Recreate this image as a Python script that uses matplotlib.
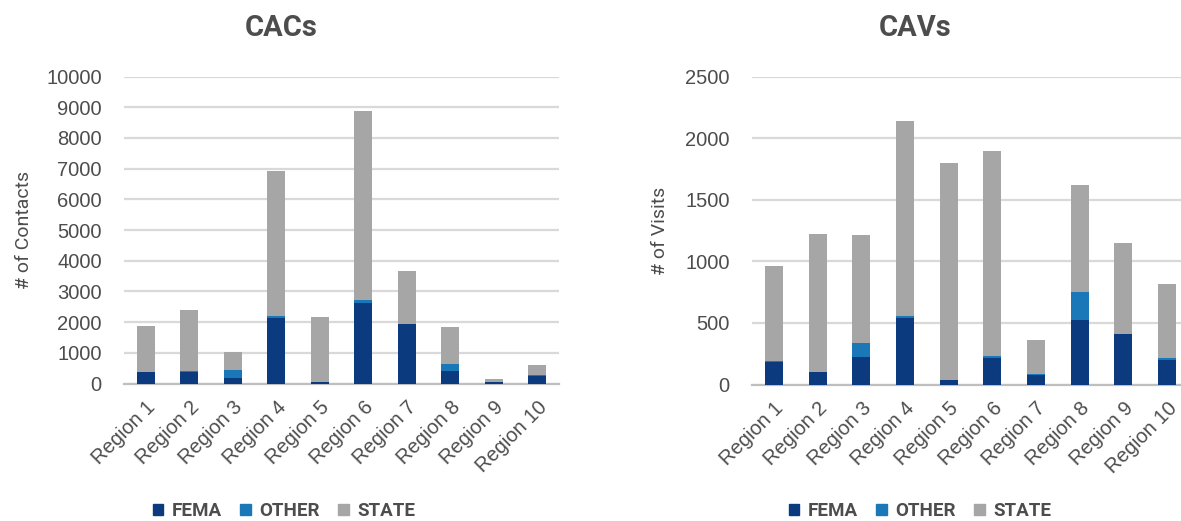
import numpy as np
import matplotlib.pyplot as plt
from matplotlib.patches import Patch

regions = ["Region 1", "Region 2", "Region 3", "Region 4", "Region 5",
           "Region 6", "Region 7", "Region 8", "Region 9", "Region 10"]

# CACs - number of contacts
cac_fema = [370, 390, 190, 2140, 65, 2610, 1925, 420, 60, 230]
cac_other = [20, 20, 260, 60, 0, 110, 20, 200, 0, 40]
cac_state = [1490, 1980, 560, 4720, 2095, 6140, 1715, 1210, 90, 330]

# CAVs - number of visits
cav_fema = [180, 98, 225, 540, 40, 212, 77, 525, 411, 200]
cav_other = [10, 0, 115, 20, 0, 20, 10, 226, 0, 15]
cav_state = [770, 1124, 871, 1581, 1759, 1664, 275, 865, 740, 601]

FEMA_C = "#0b3a7e"
OTHER_C = "#1a78b8"
STATE_C = "#a6a6a6"
TEXT_C = "#4d4d4d"
NARROW = ["Roboto", "DejaVu Sans"]

plt.rcParams["font.family"] = ["Liberation Sans", "DejaVu Sans"]

fig = plt.figure(figsize=(11.81, 5.21), dpi=100)
W, H = 1181, 521


def stacked(ax, fema, other, state, ymax, step, ylabel):
    x = np.arange(len(regions))
    fema = np.array(fema)
    other = np.array(other)
    state = np.array(state)
    ax.bar(x, fema, width=0.41, color=FEMA_C, zorder=3)
    ax.bar(x, other, width=0.41, bottom=fema, color=OTHER_C, zorder=3)
    ax.bar(x, state, width=0.41, bottom=fema + other, color=STATE_C, zorder=3)
    ax.set_xlim(-0.5, len(regions) - 0.5)
    ax.set_ylim(0, ymax)
    ax.set_yticks(np.arange(0, ymax + 1, step))
    ax.set_xticks(x)
    ax.set_xticklabels(regions, rotation=45, ha="right", rotation_mode="anchor",
                       fontsize=14.5, color=TEXT_C)
    ax.tick_params(axis="y", labelsize=14.5, labelcolor=TEXT_C, length=0, pad=16)
    ax.tick_params(axis="x", length=0, pad=10)
    ax.grid(axis="y", color="#d9d9d9", linewidth=1.6, zorder=0)
    for s in ["top", "right", "left"]:
        ax.spines[s].set_visible(False)
    ax.spines["bottom"].set_color("#bfbfbf")
    ax.spines["bottom"].set_linewidth(1.6)
    ax.set_ylabel(ylabel, fontsize=14, color=TEXT_C, family=NARROW)


ax1 = fig.add_axes([124 / W, (H - 383.5) / H, 435 / W, 307 / H])
stacked(ax1, cac_fema, cac_other, cac_state, 10000, 1000, "# of Contacts")
ax1.yaxis.set_label_coords(-0.21, 0.5)

ax2 = fig.add_axes([752 / W, (H - 384.5) / H, 437 / W, 308 / H])
stacked(ax2, cav_fema, cav_other, cav_state, 2500, 500, "# of Visits")
ax2.yaxis.set_label_coords(-0.19, 0.5)

fig.text(281 / W, 1 - 28 / H, "CACs", ha="center", va="center", fontsize=21,
         fontweight="bold", color=TEXT_C, family=NARROW)
fig.text(915 / W, 1 - 28 / H, "CAVs", ha="center", va="center", fontsize=21,
         fontweight="bold", color=TEXT_C, family=NARROW)

handles = [Patch(color=FEMA_C, label="FEMA"),
           Patch(color=OTHER_C, label="OTHER"),
           Patch(color=STATE_C, label="STATE")]
for cx in (284, 920):
    leg = fig.legend(handles=handles, loc="center", ncol=3, frameon=False,
                     bbox_to_anchor=(cx / W, 1 - 511 / H),
                     handlelength=0.55, handleheight=0.55, handletextpad=0.45,
                     columnspacing=1.0,
                     prop={"family": NARROW, "weight": "bold", "size": 13.5})
    for t in leg.get_texts():
        t.set_color(TEXT_C)

fig.savefig("out.png", dpi=100)
